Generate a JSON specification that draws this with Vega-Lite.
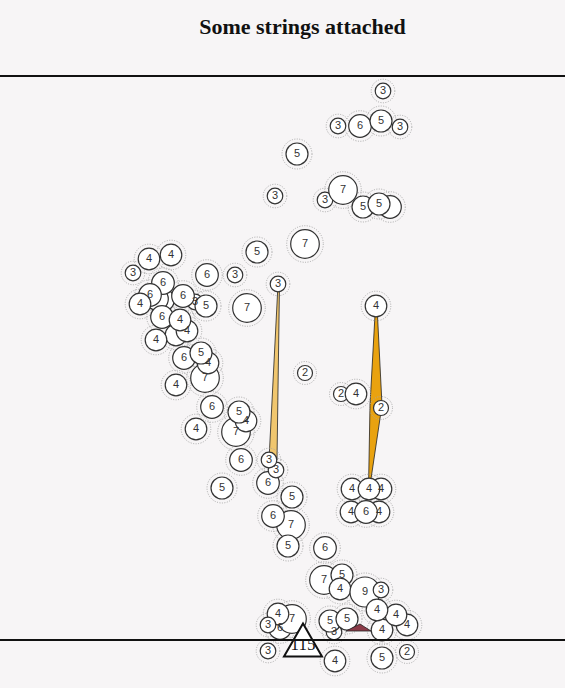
{
  "$schema": "https://vega.github.io/schema/vega-lite/v6.json",
  "width": 565,
  "height": 628,
  "autosize": {"type": "none"},
  "padding": {"left": 0, "right": 0, "top": 60, "bottom": 0},
  "background": "#f7f5f6",
  "title": {
    "text": "Some strings attached",
    "font": "Liberation Serif",
    "fontSize": 22,
    "fontWeight": "bold",
    "color": "#111111",
    "anchor": "middle",
    "frame": "group",
    "dx": 20,
    "offset": 21
  },
  "datasets": {
    "nodes": [
      {"x": 383, "y": 91, "n": 3},
      {"x": 338, "y": 126, "n": 3},
      {"x": 360, "y": 126, "n": 6},
      {"x": 381, "y": 121, "n": 5},
      {"x": 400, "y": 127, "n": 3},
      {"x": 297, "y": 154, "n": 5},
      {"x": 275, "y": 196, "n": 3},
      {"x": 325, "y": 200, "n": 3},
      {"x": 343, "y": 190, "n": 7},
      {"x": 390, "y": 207, "n": 6, "covered": true},
      {"x": 363, "y": 207, "n": 5},
      {"x": 379, "y": 204, "n": 5},
      {"x": 305, "y": 244, "n": 7},
      {"x": 257, "y": 252, "n": 5},
      {"x": 149, "y": 259, "n": 4},
      {"x": 171, "y": 255, "n": 4},
      {"x": 133, "y": 273, "n": 3},
      {"x": 207, "y": 275, "n": 6},
      {"x": 235, "y": 275, "n": 3},
      {"x": 278, "y": 284, "n": 3},
      {"x": 247, "y": 308, "n": 7},
      {"x": 163, "y": 300, "n": 6, "covered": true},
      {"x": 157, "y": 299, "n": 6, "covered": true},
      {"x": 163, "y": 283, "n": 6},
      {"x": 150, "y": 295, "n": 6},
      {"x": 140, "y": 304, "n": 4},
      {"x": 195, "y": 302, "n": 3},
      {"x": 183, "y": 296, "n": 6},
      {"x": 206, "y": 306, "n": 5},
      {"x": 176, "y": 335, "n": 4, "covered": true},
      {"x": 162, "y": 317, "n": 6},
      {"x": 187, "y": 331, "n": 4},
      {"x": 180, "y": 320, "n": 4},
      {"x": 156, "y": 340, "n": 4},
      {"x": 184, "y": 358, "n": 6},
      {"x": 205, "y": 378, "n": 7},
      {"x": 208, "y": 363, "n": 4},
      {"x": 201, "y": 353, "n": 5},
      {"x": 176, "y": 385, "n": 4},
      {"x": 212, "y": 407, "n": 6},
      {"x": 236, "y": 432, "n": 7},
      {"x": 246, "y": 421, "n": 4},
      {"x": 239, "y": 412, "n": 5},
      {"x": 196, "y": 429, "n": 4},
      {"x": 305, "y": 373, "n": 2},
      {"x": 341, "y": 394, "n": 2},
      {"x": 356, "y": 394, "n": 4},
      {"x": 376, "y": 306, "n": 4},
      {"x": 381, "y": 408, "n": 2},
      {"x": 241, "y": 460, "n": 6},
      {"x": 268, "y": 483, "n": 6},
      {"x": 276, "y": 470, "n": 3},
      {"x": 269, "y": 460, "n": 3},
      {"x": 222, "y": 488, "n": 5},
      {"x": 292, "y": 497, "n": 5},
      {"x": 291, "y": 525, "n": 7},
      {"x": 273, "y": 516, "n": 6},
      {"x": 288, "y": 546, "n": 5},
      {"x": 325, "y": 548, "n": 6},
      {"x": 381, "y": 489, "n": 4},
      {"x": 352, "y": 489, "n": 4},
      {"x": 369, "y": 489, "n": 4},
      {"x": 379, "y": 512, "n": 4},
      {"x": 351, "y": 512, "n": 4},
      {"x": 366, "y": 512, "n": 6},
      {"x": 324, "y": 580, "n": 7},
      {"x": 342, "y": 575, "n": 5},
      {"x": 340, "y": 589, "n": 4},
      {"x": 365, "y": 592, "n": 9},
      {"x": 381, "y": 590, "n": 3},
      {"x": 382, "y": 630, "n": 4},
      {"x": 407, "y": 625, "n": 4},
      {"x": 396, "y": 615, "n": 4},
      {"x": 377, "y": 610, "n": 4},
      {"x": 334, "y": 632, "n": 3},
      {"x": 330, "y": 621, "n": 5},
      {"x": 347, "y": 619, "n": 5},
      {"x": 280, "y": 628, "n": 6},
      {"x": 292, "y": 619, "n": 7},
      {"x": 278, "y": 614, "n": 4},
      {"x": 268, "y": 625, "n": 3},
      {"x": 268, "y": 651, "n": 3},
      {"x": 335, "y": 661, "n": 4},
      {"x": 382, "y": 658, "n": 5},
      {"x": 407, "y": 652, "n": 2}
    ],
    "strings": [
      {"id": "a", "o": 1, "x": 278, "y": 284},
      {"id": "a", "o": 2, "x": 279.5, "y": 284},
      {"id": "a", "o": 3, "x": 277, "y": 460},
      {"id": "a", "o": 4, "x": 269, "y": 460},
      {"id": "a", "o": 5, "x": 278, "y": 284},
      {"id": "b", "o": 1, "x": 375.5, "y": 306},
      {"id": "b", "o": 2, "x": 377, "y": 306},
      {"id": "b", "o": 3, "x": 382, "y": 405},
      {"id": "b", "o": 4, "x": 369.5, "y": 489},
      {"id": "b", "o": 5, "x": 368.5, "y": 489},
      {"id": "b", "o": 6, "x": 370, "y": 405},
      {"id": "b", "o": 7, "x": 375.5, "y": 306},
      {"id": "c", "o": 1, "x": 346, "y": 631},
      {"id": "c", "o": 2, "x": 360, "y": 624},
      {"id": "c", "o": 3, "x": 371, "y": 631},
      {"id": "c", "o": 4, "x": 346, "y": 631}
    ],
    "total": [
      {"x": 303, "y": 640, "count": 115}
    ]
  },
  "layer": [
    {
      "data": {"name": "strings"},
      "transform": [{"filter": "datum.id != 'c'"}],
      "mark": {"type": "line", "filled": true, "stroke": "#222222", "strokeWidth": 0.8, "strokeJoin": "round"},
      "encoding": {
        "x": {"field": "x", "type": "quantitative", "scale": {"domain": [0, 565], "nice": false, "zero": false}, "axis": null},
        "y": {"field": "y", "type": "quantitative", "scale": {"domain": [60, 688], "reverse": true, "nice": false, "zero": false}, "axis": null},
        "order": {"field": "o"},
        "fill": {"field": "id", "type": "nominal", "scale": {"domain": ["a", "b", "c"], "range": ["#f0c66e", "#e9a20f", "#8b3a48"]}, "legend": null}
      }
    },
    {
      "data": {"name": "nodes"},
      "mark": {"type": "point", "shape": "circle", "filled": false, "stroke": "#a8a8a8", "strokeWidth": 1, "strokeDash": [1, 1.5], "opacity": 1},
      "encoding": {
        "x": {"field": "x", "type": "quantitative", "scale": {"domain": [0, 565], "nice": false, "zero": false}, "axis": null},
        "y": {"field": "y", "type": "quantitative", "scale": {"domain": [60, 688], "reverse": true, "nice": false, "zero": false}, "axis": null},
        "size": {"field": "n", "type": "quantitative", "scale": {"domain": [2, 3, 4, 5, 6, 7, 9], "range": [529, 557, 876, 900, 936, 1340, 1444]}, "legend": null}
      }
    },
    {
      "data": {"name": "nodes"},
      "mark": {"type": "point", "shape": "circle", "filled": true, "fill": "#ffffff", "stroke": "#333333", "strokeWidth": 1.2, "opacity": 1},
      "encoding": {
        "x": {"field": "x", "type": "quantitative", "scale": {"domain": [0, 565], "nice": false, "zero": false}, "axis": null},
        "y": {"field": "y", "type": "quantitative", "scale": {"domain": [60, 688], "reverse": true, "nice": false, "zero": false}, "axis": null},
        "size": {"field": "n", "type": "quantitative", "scale": {"domain": [2, 3, 4, 5, 6, 7, 9], "range": [225, 243, 467, 484, 511, 818, 900]}, "legend": null}
      }
    },
    {
      "data": {"name": "strings"},
      "transform": [{"filter": "datum.id == 'c'"}],
      "mark": {"type": "line", "filled": true, "stroke": "#222222", "strokeWidth": 0.8, "strokeJoin": "round"},
      "encoding": {
        "x": {"field": "x", "type": "quantitative", "scale": {"domain": [0, 565], "nice": false, "zero": false}, "axis": null},
        "y": {"field": "y", "type": "quantitative", "scale": {"domain": [60, 688], "reverse": true, "nice": false, "zero": false}, "axis": null},
        "order": {"field": "o"},
        "fill": {"field": "id", "type": "nominal", "scale": {"domain": ["a", "b", "c"], "range": ["#f0c66e", "#e9a20f", "#8b3a48"]}, "legend": null}
      }
    },
    {
      "data": {"name": "nodes"},
      "transform": [{"filter": "!datum.covered"}],
      "mark": {"type": "text", "font": "Liberation Sans", "fontSize": 11, "color": "#333333", "align": "center", "baseline": "middle"},
      "encoding": {
        "x": {"field": "x", "type": "quantitative", "scale": {"domain": [0, 565], "nice": false, "zero": false}, "axis": null},
        "y": {"field": "y", "type": "quantitative", "scale": {"domain": [60, 688], "reverse": true, "nice": false, "zero": false}, "axis": null},
        "text": {"field": "n", "type": "nominal"}
      }
    },
    {
      "data": {"name": "total"},
      "mark": {"type": "point", "shape": "triangle-up", "filled": true, "fill": "#ffffff", "stroke": "#111111", "strokeWidth": 2, "opacity": 1, "size": 1444},
      "encoding": {
        "x": {"field": "x", "type": "quantitative", "scale": {"domain": [0, 565], "nice": false, "zero": false}, "axis": null},
        "y": {"field": "y", "type": "quantitative", "scale": {"domain": [60, 688], "reverse": true, "nice": false, "zero": false}, "axis": null}
      }
    },
    {
      "data": {"name": "total"},
      "mark": {"type": "text", "font": "Liberation Serif", "fontSize": 17, "color": "#111111", "align": "center", "baseline": "middle", "dy": 5},
      "encoding": {
        "x": {"field": "x", "type": "quantitative", "scale": {"domain": [0, 565], "nice": false, "zero": false}, "axis": null},
        "y": {"field": "y", "type": "quantitative", "scale": {"domain": [60, 688], "reverse": true, "nice": false, "zero": false}, "axis": null},
        "text": {"field": "count", "type": "nominal"}
      }
    },
    {
      "data": {"values": [{}]},
      "mark": {"type": "rule", "color": "#111111", "strokeWidth": 2},
      "encoding": {"y": {"datum": 76, "type": "quantitative", "scale": {"domain": [60, 688], "reverse": true, "nice": false, "zero": false}}}
    },
    {
      "data": {"values": [{}]},
      "mark": {"type": "rule", "color": "#111111", "strokeWidth": 2},
      "encoding": {"y": {"datum": 640, "type": "quantitative", "scale": {"domain": [60, 688], "reverse": true, "nice": false, "zero": false}}}
    }
  ],
  "resolve": {"scale": {"size": "independent"}},
  "config": {"view": {"stroke": null}}
}
